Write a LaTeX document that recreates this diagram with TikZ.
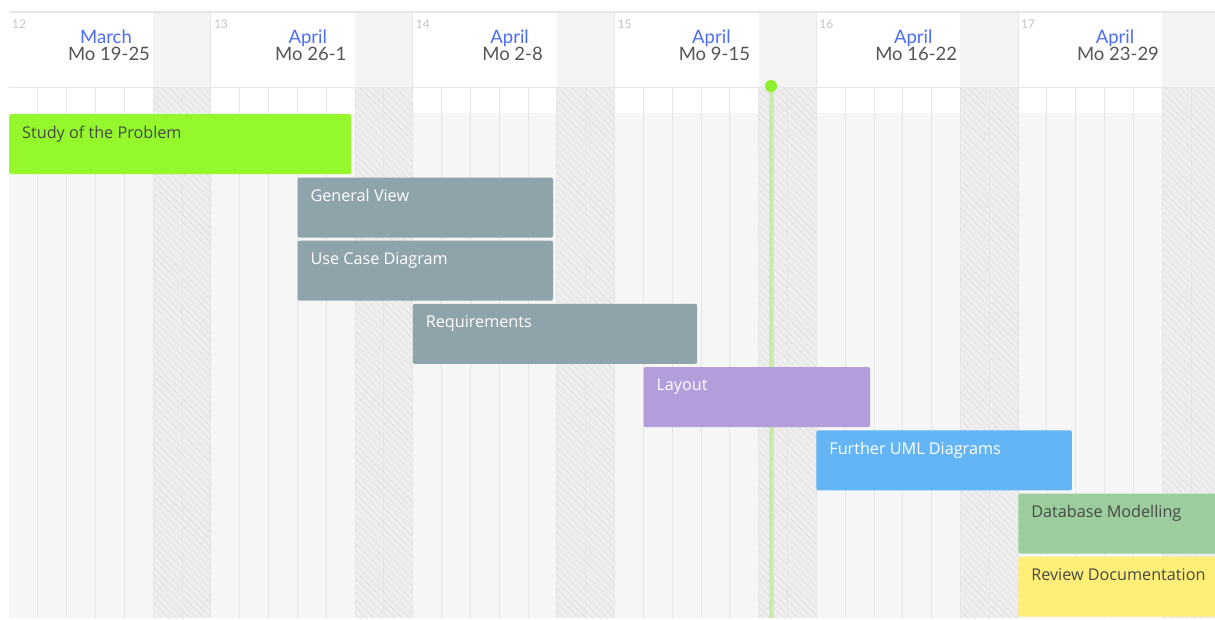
\documentclass[tikz,border=0pt]{standalone}
\usepackage{fontspec}
\setmainfont{Lato}
\newfontfamily\barfont{Open Sans}
\usetikzlibrary{patterns.meta}
\definecolor{monthblue}{HTML}{4C6EF5}
\definecolor{rangegray}{HTML}{555555}
\definecolor{weeknum}{HTML}{C4C4C4}
\definecolor{bodygray}{HTML}{F6F6F6}
\definecolor{weekendgray}{HTML}{EEEEEE}
\definecolor{headgray}{HTML}{F4F4F4}
\definecolor{hatchgray}{HTML}{DEDEDE}
\definecolor{linegray}{HTML}{E6E6E6}
\definecolor{studygreen}{HTML}{94F82D}
\definecolor{viewgray}{HTML}{8FA3AB}
\definecolor{layoutpurple}{HTML}{B39DDB}
\definecolor{umlblue}{HTML}{64B5F6}
\definecolor{dbgreen}{HTML}{9CCD9E}
\definecolor{reviewyellow}{HTML}{FFEE77}
\definecolor{darktext}{HTML}{474B45}
\definecolor{todaygreen}{HTML}{8FF02E}
\definecolor{todayline}{HTML}{C9EDA6}
\begin{document}
\begin{tikzpicture}[x=1pt,y=-1pt,
    bar/.style={rectangle,rounded corners=2pt,anchor=north west,inner sep=0pt,minimum height=60},
    barlabel/.style={anchor=base west,inner sep=0pt,font=\barfont\fontsize{16.2}{16.2}\selectfont},
    weeklabel/.style={anchor=base west,inner sep=0pt,text=weeknum,font=\fontsize{12}{12}\selectfont},
    monthlabel/.style={anchor=base,inner sep=0pt,text=monthblue,font=\fontsize{18.5}{18.5}\selectfont},
    rangelabel/.style={anchor=base,inner sep=0pt,text=rangegray,font=\fontsize{18.5}{18.5}\selectfont},
    dayline/.style={draw=linegray,line width=0.8pt},
    hatch/.style={fill=weekendgray,postaction={pattern={Lines[angle=-45,distance=5pt,line width=0.5pt]},pattern color=hatchgray}}]
  \useasboundingbox (0,0) rectangle (1215,619);
  \fill[white] (0,0) rectangle (1215,619);
  \def\dw{28.83}
  \def\ww{201.8}
  % body
  \fill[white] (9,87) rectangle (1215,113);
  \fill[bodygray] (9,113) rectangle (1215,618);
  \foreach \w in {0,...,5}
    \path[hatch] ({9+\w*\ww+5*\dw},87) rectangle ({9+(\w+1)*\ww},618);
  \foreach \i in {1,...,41}
    \draw[dayline] ({9+\i*\dw},87) -- ({9+\i*\dw},618);
  % header
  \fill[white] (9,12) rectangle (1215,87);
  \foreach \w in {0,...,5}
    \fill[headgray] ({9+\w*\ww+5*\dw},12) rectangle ({9+(\w+1)*\ww},87);
  \foreach \w in {1,...,5}
    \draw[dayline] ({9+\w*\ww},12) -- ({9+\w*\ww},87);
  \draw[linegray,line width=1.2pt] (9,12) -- (1215,12);
  \draw[linegray,line width=1.5pt] (9,87.5) -- (1215,87.5);
  \foreach \n/\m/\r [count=\k from 0] in {12/March/19-25,13/April/26-1,14/April/2-8,
      15/April/9-15,16/April/16-22,17/April/23-29} {
    \node[weeklabel] (wk\n) at ({12+\k*\ww},28) {\n};
    \node[monthlabel] (month\n) at ({106+\k*\ww},43) {\m};
    \node[rangelabel] (range\n) at ({109+\k*\ww},60) {Mo \r};
  }
  % today
  \coordinate (today) at (771,86);
  \coordinate (todayend) at (771,618);
  \draw[todayline,line width=5pt] (today) -- (todayend);
  \fill[todaygreen] (today) circle (6);
  % tasks
  \node[bar,fill=studygreen,minimum width=342] (study) at (9,114) {};
  \node[barlabel,text=darktext] (studytext) at ([shift={(13,24)}]study.north west) {Study of the Problem};
  \node[bar,fill=viewgray,minimum width=255.5] (view) at (297.3,177.3) {};
  \node[barlabel,text=white] (viewtext) at ([shift={(13,24)}]view.north west) {General View};
  \node[bar,fill=viewgray,minimum width=255.5] (usecase) at (297.3,240.5) {};
  \node[barlabel,text=white] (usecasetext) at ([shift={(13,24)}]usecase.north west) {Use Case Diagram};
  \node[bar,fill=viewgray,minimum width=284.3] (req) at (412.6,303.7) {};
  \node[barlabel,text=white] (reqtext) at ([shift={(13,24)}]req.north west) {Requirements};
  \node[bar,fill=layoutpurple,minimum width=226.6] (layout) at (643.3,366.9) {};
  \node[barlabel,text=white] (layouttext) at ([shift={(13,24)}]layout.north west) {Layout};
  \node[bar,fill=umlblue,minimum width=255.5] (uml) at (816.2,430.1) {};
  \node[barlabel,text=white] (umltext) at ([shift={(13,24)}]uml.north west) {Further UML Diagrams};
  \node[bar,fill=dbgreen,minimum width=210] (db) at (1018.1,493.3) {};
  \node[barlabel,text=darktext] (dbtext) at ([shift={(13,24)}]db.north west) {Database Modelling};
  \node[bar,fill=reviewyellow,minimum width=210] (review) at (1018.1,556.5) {};
  \begin{scope}
    \clip (1018,556) rectangle (1205,617);
    \node[barlabel,text=darktext] (reviewtext) at ([shift={(13,24)}]review.north west) {Review Documentation};
  \end{scope}
\end{tikzpicture}
\end{document}
